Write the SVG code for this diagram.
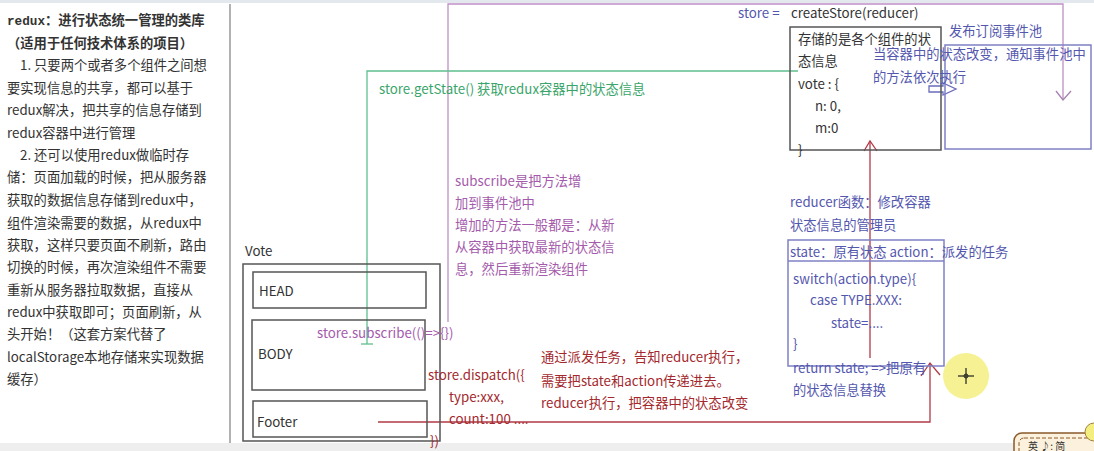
<svg xmlns="http://www.w3.org/2000/svg" width="1094" height="451" viewBox="0 0 1094 451">
<defs>
<style>
text{font-family:"Noto Sans CJK SC","Noto Sans",sans-serif;font-size:13.3px}
.k{fill:#333}
.b{fill:#333;font-weight:bold}
.mono{font-family:"Liberation Mono","DejaVu Sans Mono",monospace;font-size:12.7px;font-weight:bold}
.bl{fill:#5457ae}
.pu{fill:#a45bab}
.gr{fill:#3aa56a}
.rd{fill:#a3292e}
.box{fill:none;stroke:#555;stroke-width:1.5}
.bbox{fill:none;stroke:#7f80c4;stroke-width:1.5}
.ln{fill:none;stroke-width:1.3}
</style>
</defs>
<rect x="0" y="0" width="1094" height="451" fill="#fff"/>
<rect x="0" y="0" width="1094" height="3" fill="#e3e8ee"/>
<rect x="0" y="443" width="1094" height="8" fill="#eeeeee"/>
<line x1="230" y1="4" x2="230" y2="443" stroke="#999" stroke-width="1.5"/>

<g id="intro">
<text x="7" y="25" class="b"><tspan class="mono">redux</tspan>：进行状态统一管理的类库</text>
<text x="7" y="48" class="b">（适用于任何技术体系的项目）</text>
<text x="20" y="70" class="k">1. 只要两个或者多个组件之间想</text>
<text x="7" y="93" class="k">要实现信息的共享，都可以基于</text>
<text x="7" y="115" class="k">redux解决，把共享的信息存储到</text>
<text x="7" y="138" class="k">redux容器中进行管理</text>
<text x="20" y="160" class="k">2. 还可以使用redux做临时存</text>
<text x="7" y="182" class="k">储：页面加载的时候，把从服务器</text>
<text x="7" y="205" class="k">获取的数据信息存储到redux中，</text>
<text x="7" y="228" class="k">组件渲染需要的数据，从redux中</text>
<text x="7" y="250" class="k">获取，这样只要页面不刷新，路由</text>
<text x="7" y="272" class="k">切换的时候，再次渲染组件不需要</text>
<text x="7" y="295" class="k">重新从服务器拉取数据，直接从</text>
<text x="7" y="317" class="k">redux中获取即可；页面刷新，从</text>
<text x="7" y="339" class="k">头开始！（这套方案代替了</text>
<text x="7" y="362" class="k">localStorage本地存储来实现数据</text>
<text x="7" y="384" class="k">缓存）</text>
</g>

<g id="connectors">
<polyline class="ln" stroke="#c08ec8" points="448,322 448,4 1063,4 1063,100"/>
<polyline class="ln" stroke="#a682b0" points="1056,91 1063,100 1071,91"/>
<polyline class="ln" stroke="#5fbf8f" points="367,344 367,71 798,71"/>
<line class="ln" stroke="#5fbf8f" x1="361" y1="344" x2="373" y2="344"/>
<polyline class="ln" stroke="#b03a45" points="870,358 870,141"/>
<polyline class="ln" stroke="#b03a45" points="864,151 870,141 877,151"/>
<polyline class="ln" stroke="#b03a45" points="378,422 930,422 930,363"/>
<polyline class="ln" stroke="#b03a45" points="921,376 930,363 940,375"/>
<path d="M929,86 h14 v-3 l13,6 l-13,6 v-3 h-14 z" fill="none" stroke="#6a6cbc" stroke-width="1.3"/>
</g>

<g id="getstate-label"><text x="379" y="94" class="gr">store.getState() 获取redux容器中的状态信息</text></g>

<g id="subscribe-note">
<text x="455" y="186" class="pu">subscribe是把方法增</text>
<text x="455" y="208" class="pu">加到事件池中</text>
<text x="455" y="230" class="pu">增加的方法一般都是：从新</text>
<text x="455" y="252" class="pu">从容器中获取最新的状态信</text>
<text x="455" y="274" class="pu">息，然后重新渲染组件</text>
</g>

<g id="store">
<text x="738" y="18" class="bl">store =</text>
<text x="791" y="18" class="k">createStore(reducer)</text>
<rect x="790" y="27" width="151" height="123" class="box"/>
<text x="798" y="44" class="k">存储的是各个组件的状</text>
<text x="798" y="66" class="k">态信息</text>
<text x="798" y="89" class="k">vote : {</text>
<text x="815" y="111" class="k">n: 0,</text>
<text x="815" y="133" class="k">m:0</text>
<text x="798" y="155" class="k">}</text>
</g>

<g id="event-pool">
<text x="949" y="36" class="bl">发布订阅事件池</text>
<rect x="945" y="45" width="146" height="104" class="bbox"/>
<text x="873" y="59" class="bl">当容器中的状态改变，通知事件池中</text>
<text x="873" y="82" class="bl">的方法依次执行</text>
</g>

<g id="reducer">
<text x="790" y="207" class="bl">reducer函数：修改容器</text>
<text x="790" y="230" class="bl">状态信息的管理员</text>
<rect x="788" y="240" width="156" height="126" class="bbox"/>
<line x1="788" y1="261" x2="944" y2="261" stroke="#7f80c4" stroke-width="1.5"/>
<text x="790" y="257" class="bl">state：原有状态  action：派发的任务</text>
<text x="793" y="284" class="bl">switch(action.type){</text>
<text x="810" y="305" class="bl">case TYPE.XXX:</text>
<text x="831" y="328" class="bl">state=....</text>
<text x="793" y="349" class="bl">}</text>
<text x="793" y="373" class="bl">return state; =&gt;把原有</text>
<text x="793" y="395" class="bl">的状态信息替换</text>
</g>

<g id="vote">
<text x="245" y="256" class="k">Vote</text>
<rect x="243" y="264" width="197" height="177" class="box"/>
</g>
<g id="head">
<rect x="253" y="272" width="173" height="36" class="box"/>
<text x="259" y="296" class="k">HEAD</text>
</g>
<g id="body">
<rect x="252" y="320" width="173" height="70" class="box"/>
<text x="258" y="359" class="k">BODY</text>
</g>
<g id="footer">
<rect x="253" y="401" width="174" height="36" class="box"/>
<text x="257" y="427" class="k">Footer</text>
</g>

<g id="subscribe-label"><text x="317" y="338" class="pu">store.subscribe(()=&gt;{})</text></g>

<g id="dispatch-label">
<text x="428" y="380" class="rd">store.dispatch({</text>
<text x="449" y="402" class="rd">type:xxx,</text>
<text x="449" y="424" class="rd">count:100 ....</text>
<text x="430" y="446" class="rd">})</text>
</g>

<g id="dispatch-note">
<text x="541" y="362" class="rd">通过派发任务，告知reducer执行，</text>
<text x="541" y="386" class="rd">需要把state和action传递进去。</text>
<text x="541" y="408" class="rd">reducer执行，把容器中的状态改变</text>
</g>

<g id="cursor">
<circle cx="966" cy="376" r="23" fill="#f4ee80" opacity="0.85"/>
<line x1="958" y1="376" x2="974" y2="376" stroke="#222" stroke-width="1.2"/>
<line x1="966" y1="368" x2="966" y2="384" stroke="#222" stroke-width="1.2"/>
<circle cx="966" cy="376" r="2" fill="none" stroke="#222"/>
</g>

<g id="ime">
<rect x="1014" y="433" width="100" height="30" rx="8" fill="#fbf1dc" stroke="#8b5a2b" stroke-width="1.5"/>
<rect x="1019" y="438" width="90" height="22" rx="5" fill="none" stroke="#8b5a2b" stroke-dasharray="4,2"/>
<text x="1028" y="450" class="k" style="font-size:10px">英 ♪: 简</text>
<circle cx="1094" cy="432" r="9" fill="#f4ee80" stroke="#a08040"/>
</g>
</svg>
